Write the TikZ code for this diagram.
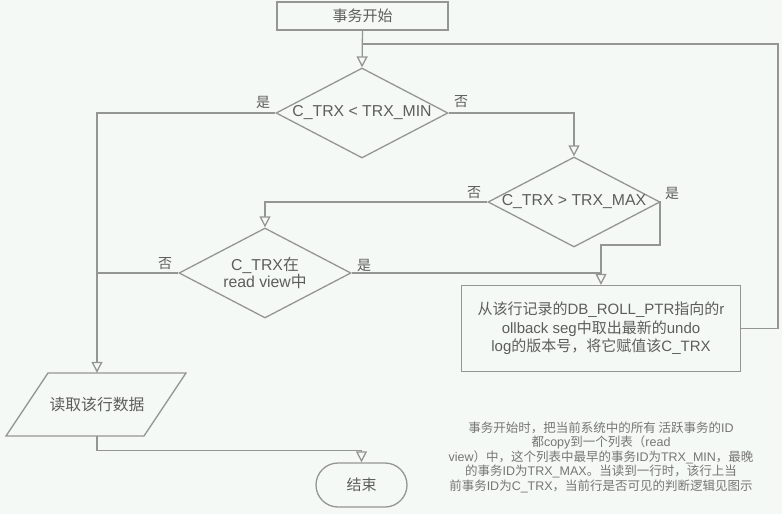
\documentclass[tikz,border=0pt]{standalone}
\usepackage{fontspec}
\setmainfont{Liberation Sans}
\newfontfamily\cjkf{Noto Sans CJK SC}
\usetikzlibrary{shapes.geometric,shapes.misc,arrows.meta}
\newcommand{\zh}[1]{{\cjkf #1}}
\definecolor{ln}{RGB}{148,150,148}
\definecolor{tx}{RGB}{92,94,92}
\definecolor{bg}{RGB}{245,249,246}
\begin{document}
\begin{tikzpicture}[x=1pt,y=-1pt,
  line/.style={draw=ln, line width=1.3pt},
  arr/.style={line, -{Triangle[open,width=11pt,length=11pt]}},
  box/.style={draw=ln, line width=1.3pt, rectangle, inner sep=0pt, text=tx, align=center, font=\fontsize{15}{18.5}\selectfont},
  dia/.style={draw=ln, line width=1.3pt, diamond, minimum width=172pt, minimum height=90pt, inner sep=0pt},
  txt/.style={text=tx, font=\fontsize{15.8}{17}\selectfont, align=center, inner sep=0pt},
  lab/.style={text=tx, font=\fontsize{14}{16}\selectfont\cjkf, inner sep=0pt},
  note/.style={text=tx!85, font=\fontsize{12.5}{14.5}\selectfont, align=center, inner sep=0pt}
]
\useasboundingbox (0,0) rectangle (782,514);
\fill[bg] (0,0) rectangle (782,514);

% nodes
\node[box, minimum width=171pt, minimum height=28pt] (start) at (362.5,16) {\zh{事务开始}};
\node[dia] (d1) at (362,113) {};
\node[txt] (d1t) at (d1) {C\_TRX < TRX\_MIN};
\node[dia] (d2) at (574,202) {};
\node[txt] (d2t) at (d2) {C\_TRX > TRX\_MAX};
\node[dia] (d3) at (265,273) {};
\node[txt] (d3t) at (d3) {C\_TRX\zh{在}\\read view\zh{中}};
\node[box, minimum width=279pt, minimum height=86pt] (rb) at (601,328.5)
  {\zh{从该行记录的}DB\_ROLL\_PTR\zh{指向的}r\\ollback seg\zh{中取出最新的}undo\\log\zh{的版本号，将它赋值该}C\_TRX};
\draw[line] (48,373) -- (186,373) -- (144,436) -- (6,436) -- cycle;
\node[txt, minimum width=138pt, minimum height=63pt] (rd) at (97,404.5) {\zh{读取该行数据}};
\node[box, rounded rectangle, minimum width=91pt, minimum height=44pt] (end) at (361.5,485) {\zh{结束}};

% labels
\node[lab] (l1) at (263,102) {是};
\node[lab] (l2) at (461,102) {否};
\node[lab] (l3) at (474,193) {否};
\node[lab] (l4) at (672,193) {是};
\node[lab] (l5) at (165,264) {否};
\node[lab] (l6) at (364,265) {是};

% connectors
\coordinate (lp) at (778,44);
\coordinate (k1) at (660,245);
\draw[arr] (start.south) -- (d1.north);
\draw[line] (rb.east) -| (lp) -- (start.south |- lp);
\draw[arr] (d1.west) -| (rd.north);
\draw[arr] (d1.east) -| (d2.north);
\draw[arr] (d2.west) -| (d3.north);
\draw[arr] (d2.east) -| (k1) -| (rb.north);
\draw[line] (d3.east) -- (rb.north |- d3.east);
\draw[line] (d3.west) -- (rd.north |- d3.west);
\draw[arr] (rd.south) -- ++(0,14) -| (end.north);

% note
\node[note] (nt) at (601,457) {\zh{事务开始时，把当前系统中的所有 活跃事务的}ID\\\zh{都}copy\zh{到一个列表（}read\\view\zh{）中，这个列表中最早的事务}ID\zh{为}TRX\_MIN\zh{，最晚}\\\zh{的事务}ID\zh{为}TRX\_MAX\zh{。当读到一行时，该行上当}\\\zh{前事务}ID\zh{为}C\_TRX\zh{，当前行是否可见的判断逻辑见图示}};
\end{tikzpicture}
\end{document}
